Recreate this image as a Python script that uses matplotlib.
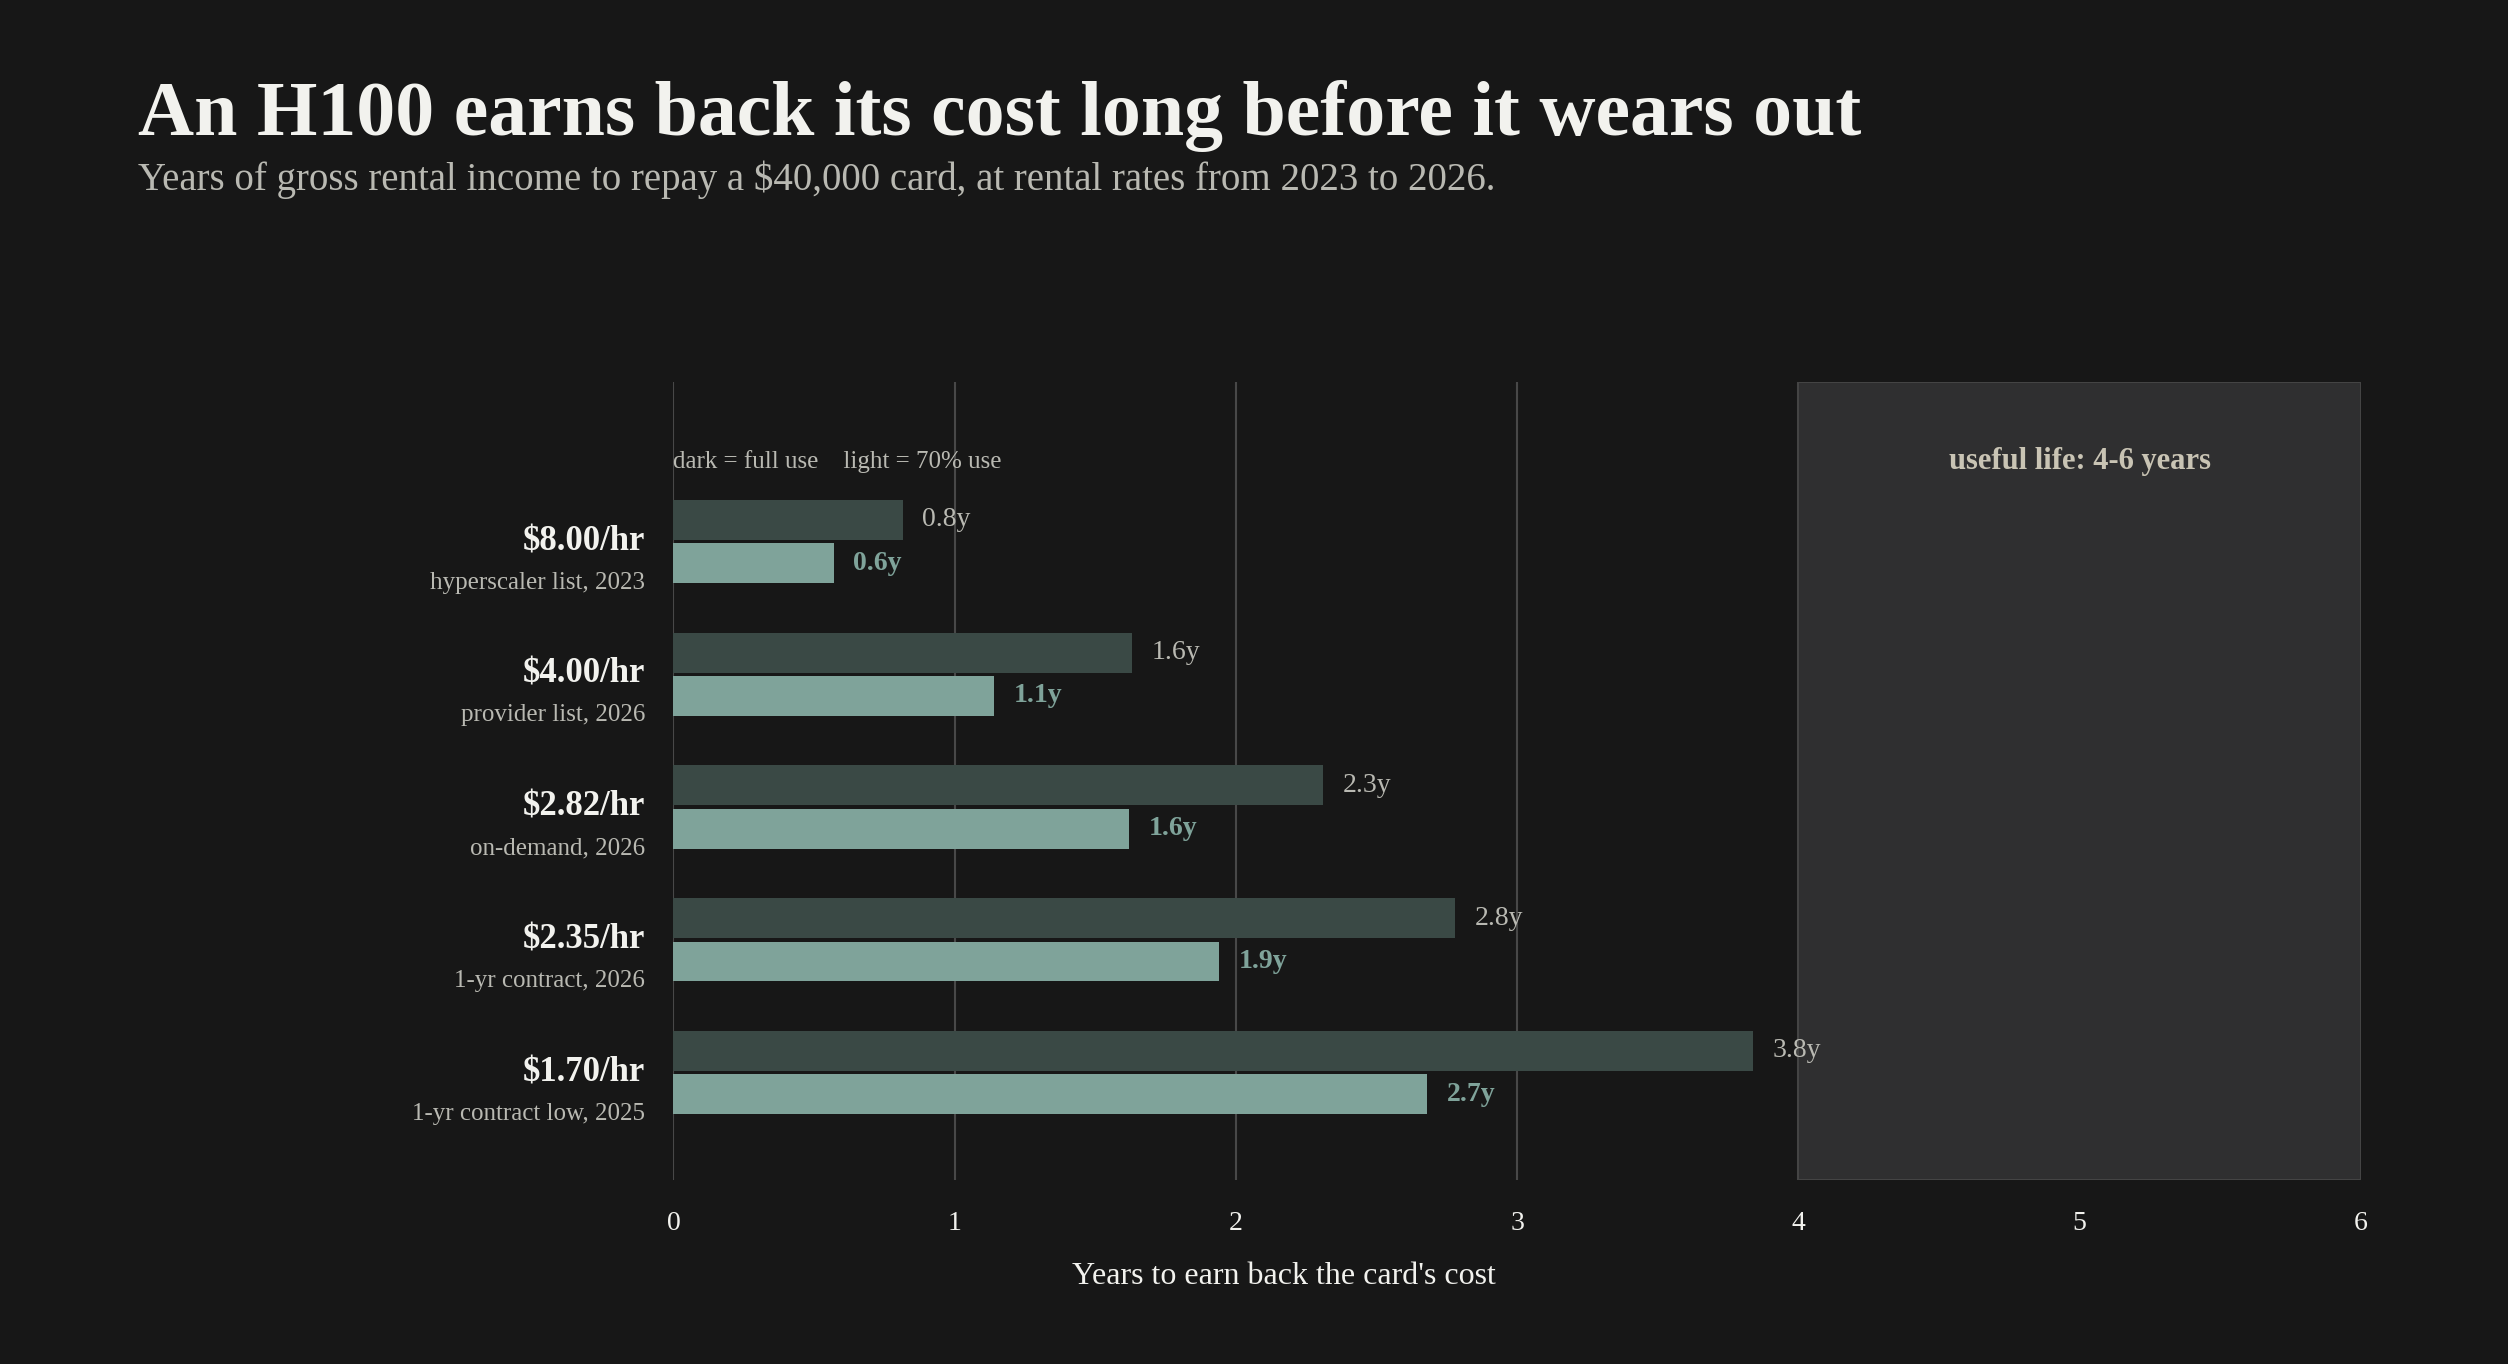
import matplotlib.pyplot as plt
import numpy as np

rates = ["$8.00/hr", "$4.00/hr", "$2.82/hr", "$2.35/hr", "$1.70/hr"]
sources = ["hyperscaler list, 2023", "provider list, 2026", "on-demand, 2026",
           "1-yr contract, 2026", "1-yr contract low, 2025"]
years_dark = [0.815, 1.63, 2.31, 2.78, 3.84]
years_light = [0.57, 1.14, 1.62, 1.94, 2.68]

BG = "#171717"
DARK = "#3a4945"
LIGHT = "#7fa39a"
plt.rcParams['font.family'] = ['Liberation Serif', 'DejaVu Serif']

fig = plt.figure(figsize=(25.08, 13.64), dpi=100, facecolor=BG)
ax = fig.add_axes([0.2685, 0.1348, 0.6728, 0.585], facecolor=BG)

ax.axvspan(4, 6, color="#2f2f30", zorder=0)
ax.axvspan(4, 6, fill=False, edgecolor="#444444", lw=1.5, zorder=0)
for x in range(0, 4):
    ax.axvline(x, color="#484848", lw=1.5, zorder=1)

y = np.arange(len(rates))
off, h = 0.163, 0.3
ax.barh(y - off, years_dark, height=h, color=DARK, zorder=2)
ax.barh(y + off, years_light, height=h, color=LIGHT, zorder=2)
for i in range(len(rates)):
    ax.text(years_dark[i] + 0.07, y[i] - off, f"{years_dark[i]:.1f}y", color="#b9b9b2",
            fontsize=20, va="center", zorder=3)
    ax.text(years_light[i] + 0.07, y[i] + off, f"{years_light[i]:.1f}y", color=LIGHT,
            fontsize=20, fontweight="bold", va="center", zorder=3)
    ax.text(-0.1, y[i], rates[i], color="#f2f2ee", fontsize=25, fontweight="bold",
            ha="right", va="center")
    ax.text(-0.1, y[i] + 0.31, sources[i], color="#b9b9b2", fontsize=18,
            ha="right", va="center")

ax.text(0, -0.6, "dark = full use    light = 70% use", color="#b9b9b2", fontsize=18, va="center")
ax.text(5, -0.6, "useful life: 4-6 years", color="#c9c4b4", fontsize=22,
        fontweight="bold", ha="center", va="center")

ax.set_xlim(0, 6)
ax.set_ylim(4.81, -1.2)
ax.set_xticks(range(7))
ax.tick_params(axis="x", length=0, colors="#f2f2ee", labelsize=20, pad=22)
ax.set_yticks([])
for s in ax.spines.values():
    s.set_visible(False)
fig.text(0.512, 0.0645, "Years to earn back the card's cost", color="#f2f2ee",
         fontsize=23, ha="center", va="center")

fig.text(0.055, 0.915, "An H100 earns back its cost long before it wears out", color="#f2f2ee",
         fontsize=56, fontweight="bold", va="center")
fig.text(0.055, 0.868, "Years of gross rental income to repay a $40,000 card, at rental rates from 2023 to 2026.",
         color="#b9b9b2", fontsize=28, va="center")

fig.savefig("out.png", facecolor=BG)
